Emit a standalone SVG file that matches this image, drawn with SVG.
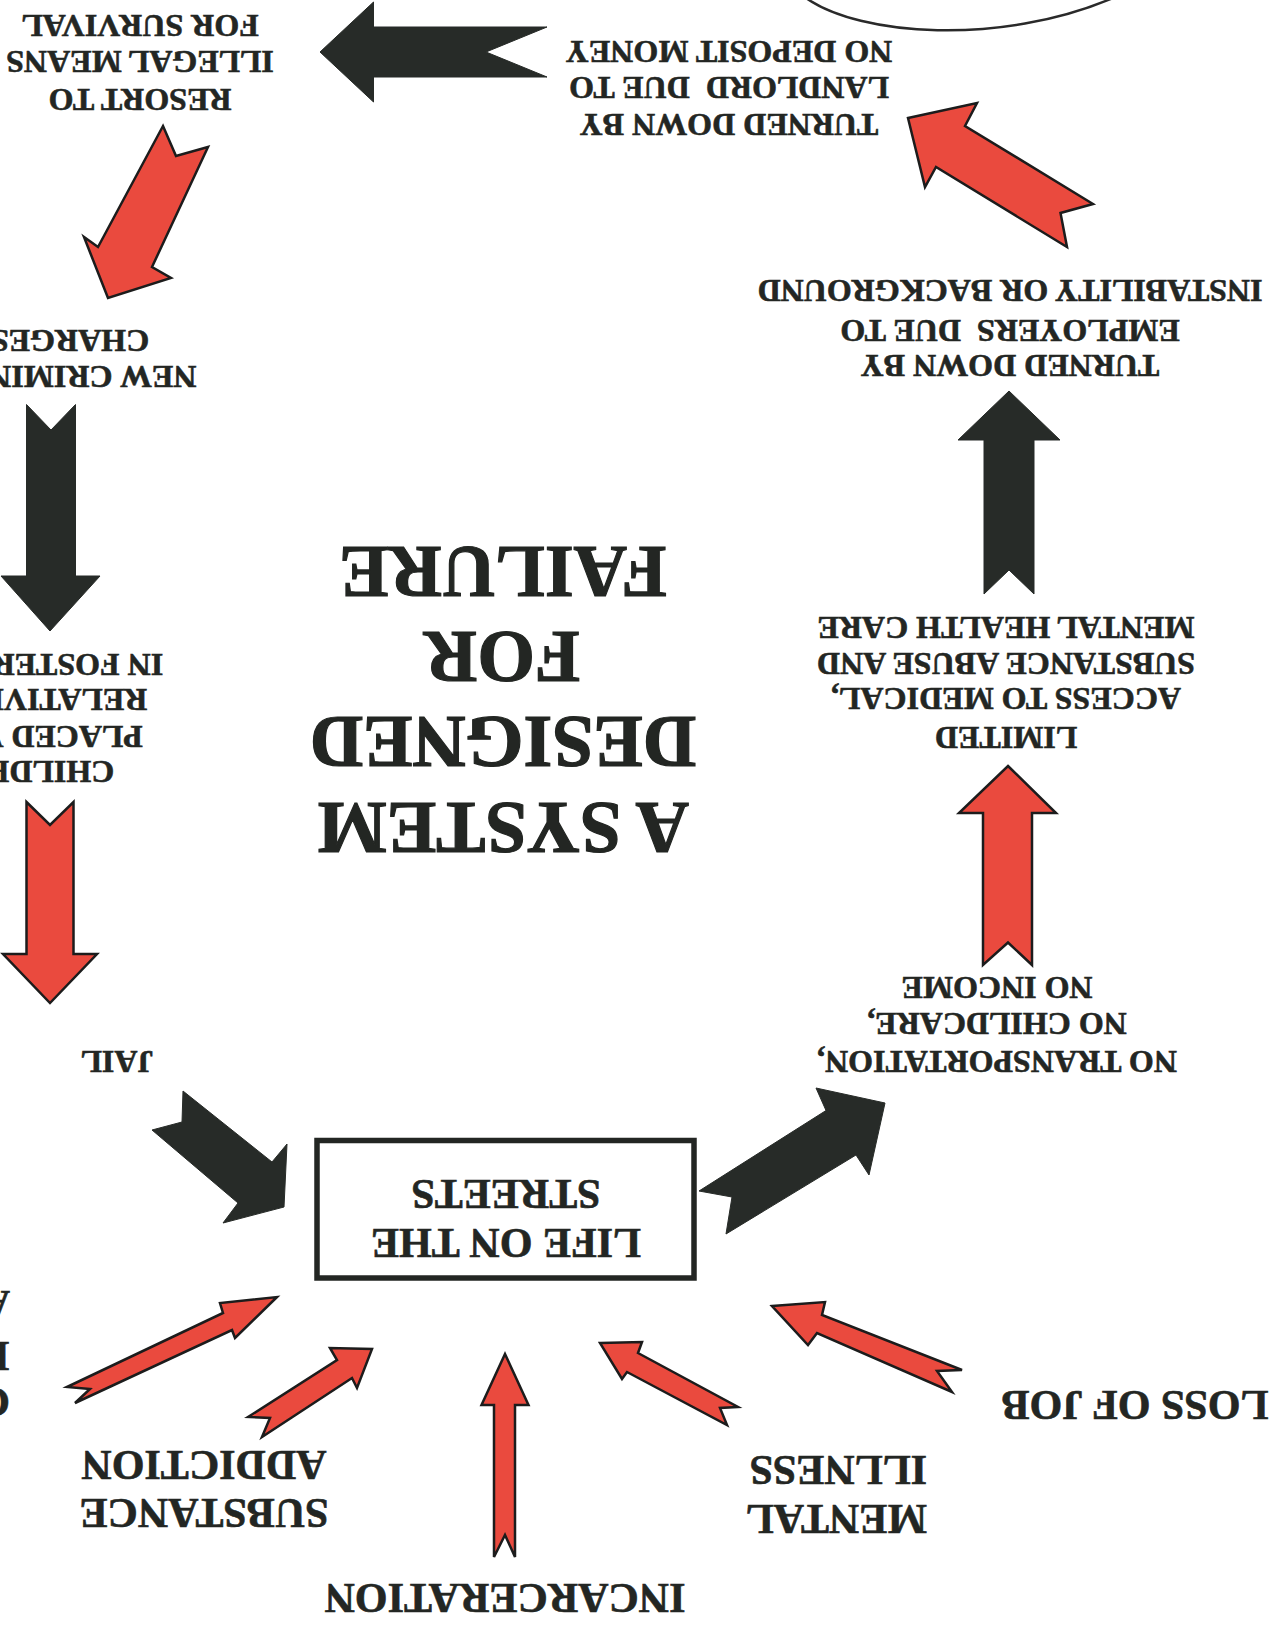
<svg xmlns="http://www.w3.org/2000/svg" width="1274" height="1627" viewBox="0 0 1274 1627">
<style>
.t{font-family:"Liberation Serif","Times New Roman",serif;font-weight:bold;fill:#232623;stroke:#232623;stroke-width:0.6;text-anchor:middle}
.st{text-anchor:start}
.f32{font-size:32px}.f42{font-size:42px}.f74{font-size:74px;stroke-width:1.2}
.blk{fill:#272b28;stroke:#272b28;stroke-width:1;stroke-linejoin:miter}
.red{fill:#ea4a3e;stroke:#1c1c1c;stroke-width:2.5;stroke-linejoin:miter}
.box{fill:#fff;stroke:#232623;stroke-width:5.5}
.arc{fill:none;stroke:#2a2a2a;stroke-width:2.5}
</style>
<rect width="1274" height="1627" fill="#fff"/>
<path class="arc" d="M806,-2 C860,36 1000,46 1113,-2"/>

<g id="title">
<text class="t f74" x="503" y="802.5" transform="rotate(180 503 802.5)">A SYSTEM</text>
<text class="t f74" x="503" y="716.5" transform="rotate(180 503 716.5)">DESIGNED</text>
<text class="t f74" x="502" y="631.5" transform="rotate(180 502 631.5)">FOR</text>
<text class="t f74" x="503" y="546.5" transform="rotate(180 503 546.5)">FAILURE</text>
</g>

<g id="node-life">
<rect class="box" x="317" y="1140.5" width="377" height="137.5"/>
<text class="t f42" x="506" y="1229" transform="rotate(180 506 1229)">LIFE ON THE</text>
<text class="t f42" x="506" y="1180" transform="rotate(180 506 1180)">STREETS</text>
</g>

<g id="node-transport">
<text class="t f32" x="997" y="1050.5" transform="rotate(180 997 1050.5)">NO TRANSPORTATION,</text>
<text class="t f32" x="997" y="1013" transform="rotate(180 997 1013)">NO CHILDCARE,</text>
<text class="t f32" x="997" y="977" transform="rotate(180 997 977)">NO INCOME</text>
</g>

<g id="node-limited">
<text class="t f32" x="1006" y="726.5" transform="rotate(180 1006 726.5)">LIMITED</text>
<text class="t f32" x="1006" y="688" transform="rotate(180 1006 688)">ACCESS TO MEDICAL,</text>
<text class="t f32" x="1006" y="652.5" transform="rotate(180 1006 652.5)">SUBSTANCE ABUSE AND</text>
<text class="t f32" x="1006" y="617" transform="rotate(180 1006 617)">MENTAL HEALTH CARE</text>
</g>

<g id="node-employers">
<text class="t f32" x="1010" y="354.5" transform="rotate(180 1010 354.5)">TURNED DOWN BY</text>
<text class="t f32" x="1010" y="319.5" transform="rotate(180 1010 319.5)" xml:space="preserve">EMPLOYERS  DUE TO</text>
<text class="t f32" x="1010" y="279.5" transform="rotate(180 1010 279.5)">INSTABILITY OR BACKGROUND</text>
</g>

<g id="node-landlord">
<text class="t f32" x="729" y="113.5" transform="rotate(180 729 113.5)">TURNED DOWN BY</text>
<text class="t f32" x="729" y="76.5" transform="rotate(180 729 76.5)" xml:space="preserve">LANDLORD  DUE TO</text>
<text class="t f32" x="729" y="40.5" transform="rotate(180 729 40.5)">NO DEPOSIT MONEY</text>
</g>

<g id="node-resort">
<text class="t f32" x="140" y="89" transform="rotate(180 140 89)">RESORT TO</text>
<text class="t f32" x="140" y="51" transform="rotate(180 140 51)">ILLEGAL MEANS</text>
<text class="t f32" x="140" y="14.5" transform="rotate(180 140 14.5)">FOR SURVIVAL</text>
</g>

<g id="node-charges">
<text class="t f32" x="70" y="365.5" transform="rotate(180 70 365.5)">NEW CRIMINAL</text>
<text class="t f32" x="70" y="329.5" transform="rotate(180 70 329.5)">CHARGES</text>
</g>

<g id="node-children">
<text class="t f32" x="28" y="760.5" transform="rotate(180 28 760.5)">CHILDREN</text>
<text class="t f32" x="28" y="725.5" transform="rotate(180 28 725.5)">PLACED WITH</text>
<text class="t f32" x="28" y="688.5" transform="rotate(180 28 688.5)">RELATIVES OR</text>
<text class="t f32" x="28" y="653.5" transform="rotate(180 28 653.5)">IN FOSTER CARE</text>
</g>

<g id="node-jail">
<text class="t f32" x="117" y="1050.5" transform="rotate(180 117 1050.5)">JAIL</text>
</g>

<g id="node-left-partial">
<text class="t f42 st" x="10" y="1388" transform="rotate(180 10 1388)">C</text>
<text class="t f42 st" x="10" y="1342" transform="rotate(180 10 1342)">I</text>
<text class="t f42 st" x="10" y="1291" transform="rotate(180 10 1291)">A</text>
</g>

<g id="node-substance">
<text class="t f42" x="204" y="1499" transform="rotate(180 204 1499)">SUBSTANCE</text>
<text class="t f42" x="204" y="1450.5" transform="rotate(180 204 1450.5)">ADDICTION</text>
</g>

<g id="node-incarceration">
<text class="t f42" x="505" y="1584" transform="rotate(180 505 1584)">INCARCERATION</text>
</g>

<g id="node-mental">
<text class="t f42 st" x="927" y="1505" transform="rotate(180 927 1505)">MENTAL</text>
<text class="t f42 st" x="927" y="1456" transform="rotate(180 927 1456)">ILLNESS</text>
</g>

<g id="node-loss">
<text class="t f42" x="1135" y="1391" transform="rotate(180 1135 1391)">LOSS OF JOB</text>
</g>

<g id="connectors">
<!-- black: landlord -> resort -->
<polygon class="blk" points="320,52 373.5,2 373.5,27 547,27 486,52 547,77 373.5,77 373.5,102"/>
<!-- red: resort -> charges -->
<polygon class="red" points="163,126 176,156 208,147 152,267 171,278 108,298 84,237 98,247"/>
<!-- black: charges -> children -->
<polygon class="blk" points="26.5,404.5 51,430 75.5,404.5 75.5,576 100,576 50,631 1,576 26.5,576"/>
<!-- red: children -> jail -->
<polygon class="red" points="26.5,802 50,825 73.5,802 73.5,954 97,954 50,1003 3,954 26.5,954"/>
<!-- black: jail -> life -->
<polygon class="blk" points="183,1091 272,1162 287,1144 284,1207 223,1223 238,1203 152,1130 182,1122"/>
<!-- black: life -> transport -->
<polygon class="blk" points="885,1103 869,1175 856,1155 726,1234 732,1197 699,1191 826,1110.5 816,1088"/>
<!-- red: transport -> limited -->
<polygon class="red" points="1008,766 1056,813 1032,813 1032,965 1008,942.5 983,965 983,813 959,813"/>
<!-- black: limited -> employers -->
<polygon class="blk" points="1009,391 1060,440 1034,440 1034,594 1009,570 984,594 984,440 958,440"/>
<!-- red: employers -> landlord -->
<polygon class="red" points="908,118 977,103 965,126 1093,204 1060.5,213 1067,247 936,167 925,187"/>
<!-- red: partial -> life -->
<polygon class="red" points="67,1387 223,1313 220,1303 277,1297 235,1338 232,1330 75,1403 90,1389"/>
<!-- red: substance -> life -->
<polygon class="red" points="248,1417 337,1360 330,1348 372,1349 357,1388 352,1378 262,1437 270,1418"/>
<!-- red: incarceration -> life -->
<polygon class="red" points="505,1354 528.5,1405 515,1405 515,1557 505,1535 494,1557 494,1405 481.5,1405"/>
<!-- red: mental -> life -->
<polygon class="red" points="600,1343 642,1342 638,1353 738,1407 720,1408 727,1425 627,1372 622,1379"/>
<!-- red: loss of job -> life -->
<polygon class="red" points="772,1306 825,1302 822,1315 962,1370 937,1371 952,1392 817,1333 808,1345"/>
</g>
</svg>
